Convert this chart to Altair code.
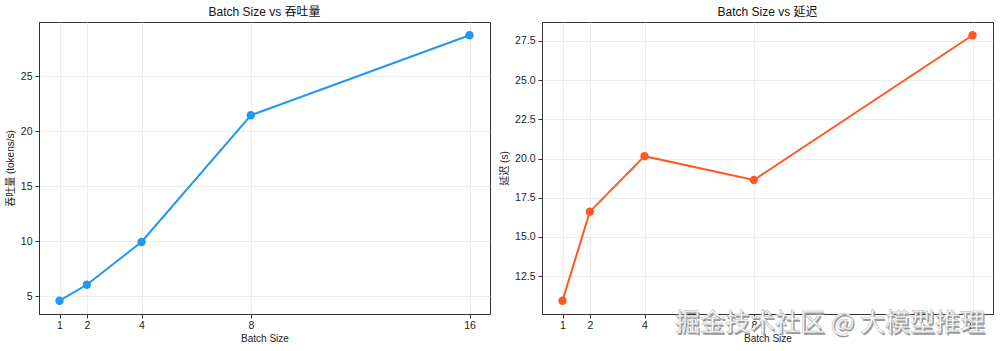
import altair as alt
import pandas as pd

batch_sizes = [1, 2, 4, 8, 16]
throughput = [4.6, 6.05, 9.94, 21.45, 28.72]
latency = [10.93, 16.61, 20.15, 18.63, 27.86]

x_ticks = [1, 2, 4, 8, 16]
thr_ticks = [5, 10, 15, 20, 25]
lat_ticks = [12.5, 15.0, 17.5, 20.0, 22.5, 25.0, 27.5]

watermark = "掘金技术社区 @ 大模型推理"

FONT = "Liberation Sans, Arial, Noto Sans CJK SC, sans-serif"
BLUE = "#2196F3"
ORANGE = "#FF5722"


def margin(vals, m=0.05):
    lo, hi = min(vals), max(vals)
    r = hi - lo
    return [lo - m * r, hi + m * r]


df_thr = pd.DataFrame({"batch": batch_sizes, "value": throughput})
df_lat = pd.DataFrame({"batch": batch_sizes, "value": latency})

W, H = 451, 292

x_enc = alt.X(
    "batch:Q",
    scale=alt.Scale(domain=margin(batch_sizes), nice=False, zero=False),
    axis=alt.Axis(values=x_ticks, title="Batch Size", format="d", labelPadding=2, titlePadding=3),
)


def panel(df, color, title, ytitle, yticks, yfmt, extra=None):
    y_enc = alt.Y(
        "value:Q",
        scale=alt.Scale(domain=margin(df["value"].tolist()), nice=False, zero=False),
        axis=alt.Axis(values=yticks, title=ytitle, format=yfmt),
    )
    base = alt.Chart(df).encode(x=x_enc, y=y_enc)
    line = base.mark_line(color=color, strokeWidth=2)
    pts = base.mark_point(color=color, filled=True, opacity=1, size=70)
    layers = [line, pts]
    if extra is not None:
        layers.extend(extra)
    return alt.layer(*layers).properties(
        width=W, height=H, title=alt.Title(title)
    )


wm_df = pd.DataFrame({"t": [watermark]})
wm_shadow = alt.Chart(wm_df).mark_text(
    fontSize=25,
    font="Noto Sans CJK SC",
    color="#9a9a9a",
    align="center",
    baseline="middle",
).encode(text="t:N", x=alt.value(289.5), y=alt.value(302.5))
wm_front = alt.Chart(wm_df).mark_text(
    fontSize=25,
    font="Noto Sans CJK SC",
    color="white",
    stroke="#b0b0b0",
    strokeWidth=0.5,
    align="center",
    baseline="middle",
).encode(text="t:N", x=alt.value(288), y=alt.value(301))

left = panel(df_thr, BLUE, "Batch Size vs 吞吐量", "吞吐量 (tokens/s)", thr_ticks, "d")
right = panel(df_lat, ORANGE, "Batch Size vs 延迟", "延迟 (s)", lat_ticks, ".1f",
              extra=[wm_shadow, wm_front])

chart = (
    alt.hconcat(left, right, spacing=8)
    .resolve_scale(y="independent")
    .properties(padding={"left": 4, "top": 5, "right": 2, "bottom": 2}, background="white")
    .configure_view(stroke="#333333", strokeWidth=1)
    .configure_axis(
        labelFont=FONT,
        titleFont=FONT,
        labelFontSize=10.5,
        titleFontSize=10,
        titleFontWeight="normal",
        labelColor="#222222",
        titleColor="#222222",
        domainColor="#333333",
        tickColor="#333333",
        tickSize=4,
        labelPadding=3,
        titlePadding=5,
        gridColor="#e8e8e8",
        gridWidth=0.8,
    )
    .configure_title(font=FONT, fontSize=12, fontWeight="normal", color="#111111", offset=3)
)

chart.save("out.html", embed_options={"renderer": "svg", "actions": False})
